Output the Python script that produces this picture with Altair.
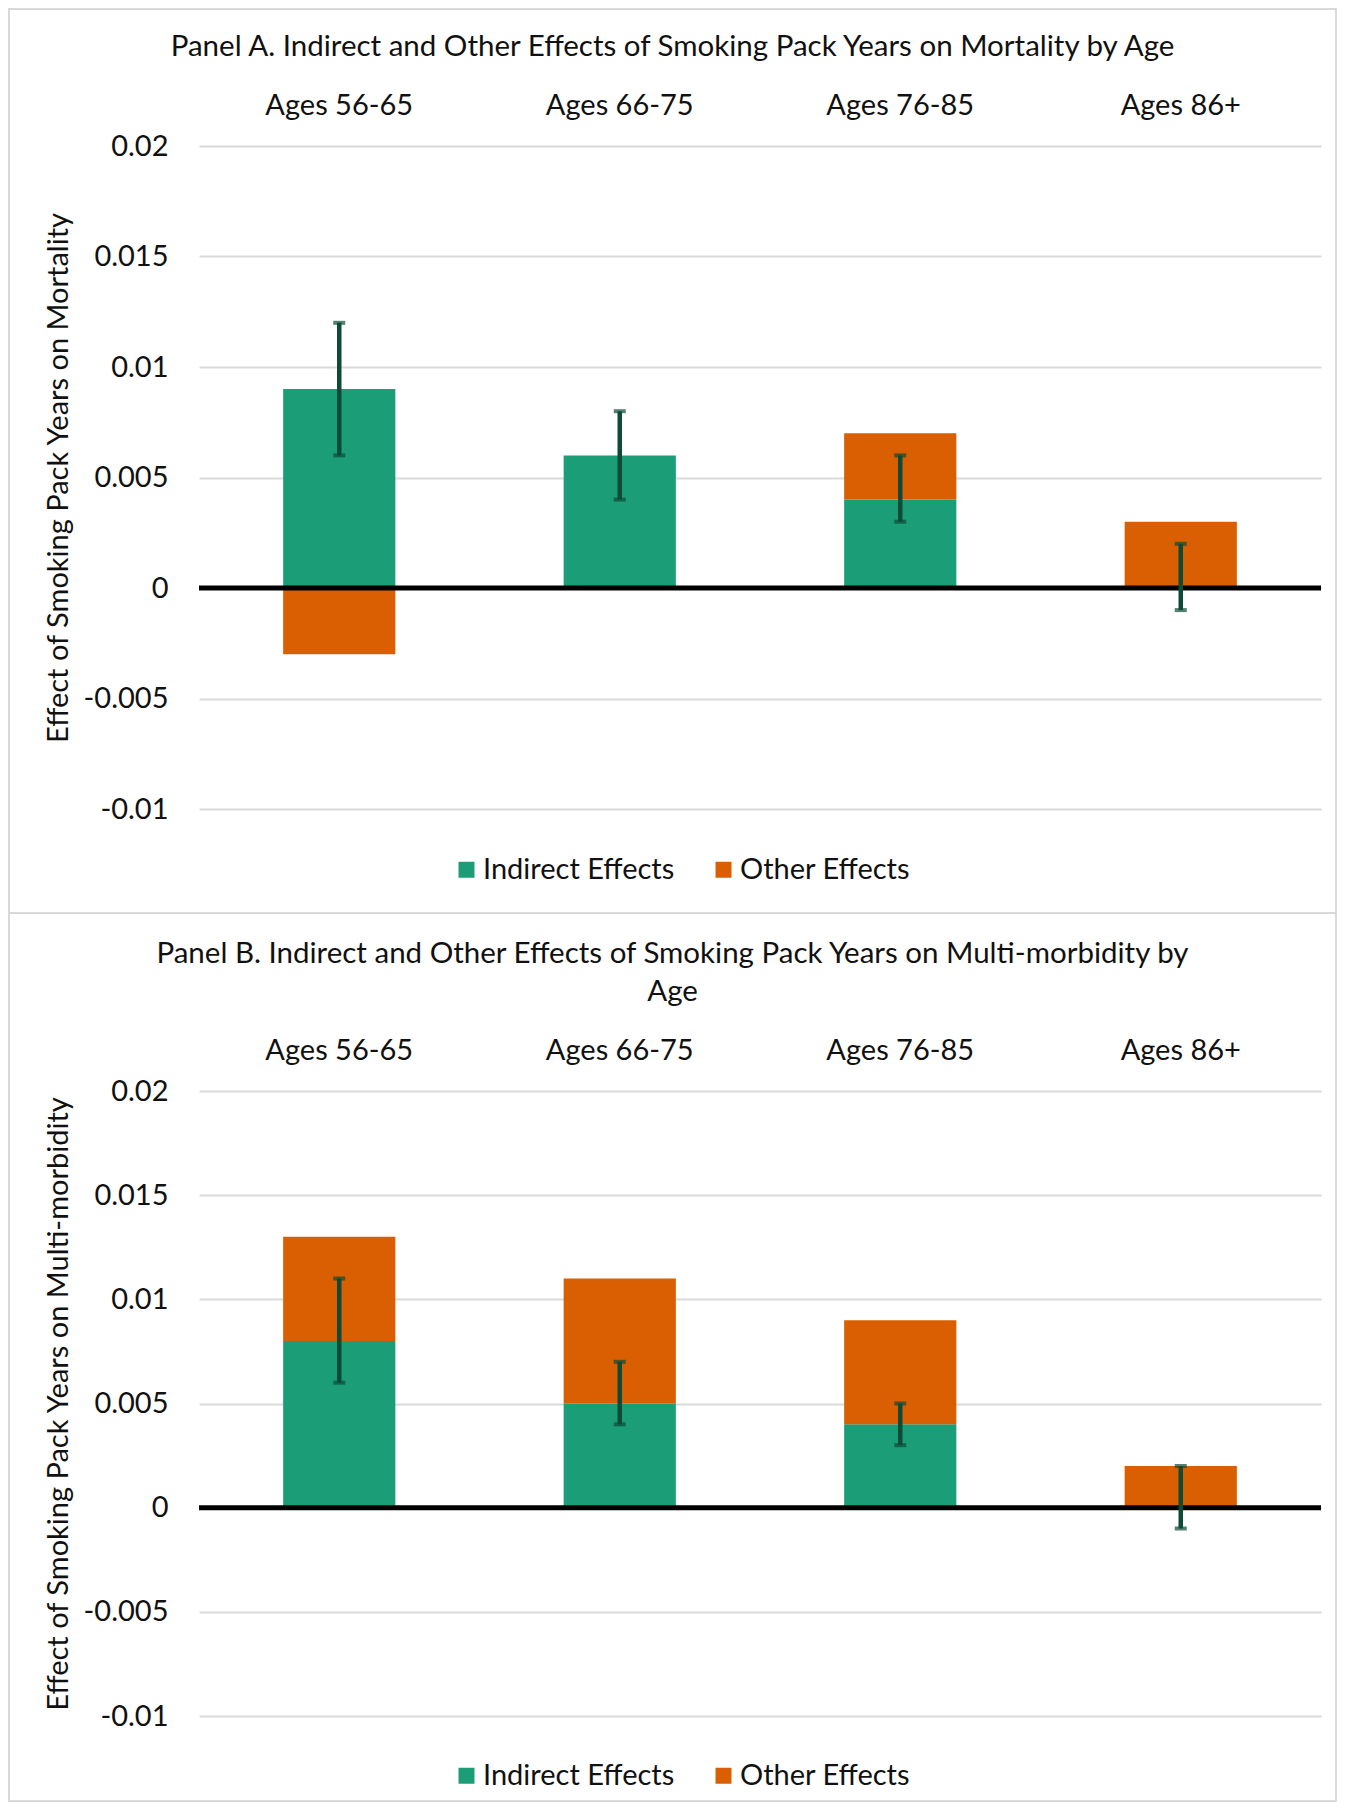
import altair as alt
import pandas as pd

# ---------------- data ----------------
ages = ["Ages 56-65", "Ages 66-75", "Ages 76-85", "Ages 86+"]
series = ["Indirect Effects", "Other Effects"]

mort_indirect = [0.009, 0.006, 0.004, 0.0]
mort_other = [-0.003, 0.0, 0.003, 0.003]
mort_ci_low = [0.006, 0.004, 0.003, -0.001]
mort_ci_high = [0.012, 0.008, 0.006, 0.002]

morb_indirect = [0.008, 0.005, 0.004, 0.0]
morb_other = [0.005, 0.006, 0.005, 0.002]
morb_ci_low = [0.006, 0.004, 0.003, -0.001]
morb_ci_high = [0.011, 0.007, 0.005, 0.002]

y_ticks = [-0.01, -0.005, 0, 0.005, 0.01, 0.015, 0.02]

title_a = "Panel A. Indirect and Other Effects of Smoking Pack Years on Mortality by Age"
title_b = ["Panel B. Indirect and Other Effects of Smoking Pack Years on Multi-morbidity by", "Age"]
ytitle_a = "Effect of Smoking Pack Years on Mortality"
ytitle_b = "Effect of Smoking Pack Years on Multi-morbidity"

# ---------------- style ----------------
FONT = "Lato"
FS = 29
TXT = "#111111"
GREEN = "#1b9e77"
ORANGE = "#d95f02"
ERR = "#0d4a38"
FRAME = "#d9d9d9"
W = 1122


def panel(title, ytitle, ind, oth, lo, hi, h, legend_y, frame_top, frame_bottom, title_offset):
    bars_df = pd.DataFrame({
        "age": ages * 2,
        "series": [series[0]] * len(ages) + [series[1]] * len(ages),
        "value": ind + oth,
        "ord": [0] * len(ages) + [1] * len(ages),
    })
    err_df = pd.DataFrame({"age": ages, "lo": lo, "hi": hi})
    caps_df = pd.DataFrame({"age": ages * 2, "v": lo + hi})
    zero_df = pd.DataFrame({"z": [0.0]})

    x = alt.X(
        "age:N", sort=ages, title=None,
        scale=alt.Scale(paddingInner=0.6, paddingOuter=0.3),
        axis=alt.Axis(orient="top", domain=False, ticks=False, labelAngle=0,
                      labelPadding=26, labelFontSize=FS, labelColor=TXT,
                      labelFont=FONT, grid=False),
    )
    yscale = alt.Scale(domain=[-0.01, 0.02], nice=False)

    bars = alt.Chart(bars_df).mark_bar().encode(
        x=x,
        y=alt.Y(
            "value:Q", stack="zero", scale=yscale, title=ytitle,
            axis=alt.Axis(values=y_ticks, domain=False, ticks=False,
                          labelPadding=31, labelFontSize=FS, labelFont=FONT,
                          labelColor=TXT,
                          labelExpr="replace(format(datum.value, '~g'), '\u2212', '-')",
                          grid=True, gridColor="#d9d9d9", gridWidth=2,
                          titleFont=FONT, titleFontSize=FS, titleFontWeight="normal",
                          titleColor=TXT, titlePadding=10),
        ),
        color=alt.Color(
            "series:N",
            scale=alt.Scale(domain=series, range=[GREEN, ORANGE]),
            legend=alt.Legend(title=None, orient="none", legendX=253, legendY=legend_y,
                              direction="horizontal", symbolType="square",
                              symbolSize=256, symbolStrokeWidth=0,
                              labelFont=FONT, labelFontSize=FS, labelColor=TXT,
                              labelLimit=500, labelOffset=2, columnPadding=34),
        ),
        order=alt.Order("ord:Q"),
    )

    zero = alt.Chart(zero_df).mark_rule(color="black", strokeWidth=5).encode(
        y=alt.Y("z:Q", scale=yscale)
    )

    err = alt.Chart(err_df).mark_rule(color=ERR, strokeWidth=4.5).encode(
        x=alt.X("age:N", sort=ages),
        y=alt.Y("lo:Q", scale=yscale),
        y2="hi:Q",
    )
    caps = alt.Chart(caps_df).mark_tick(color=ERR, thickness=4, size=12).encode(
        x=alt.X("age:N", sort=ages),
        y=alt.Y("v:Q", scale=yscale),
    )

    # light grey frame around each panel (as in the original figure)
    frame = alt.Chart(zero_df).mark_rect(
        fillOpacity=0, stroke=FRAME, strokeWidth=2
    ).encode(
        x=alt.value(-190), x2=alt.value(1137),
        y=alt.value(frame_top), y2=alt.value(frame_bottom),
    )

    return alt.layer(frame, bars, zero, err, caps).properties(
        width=W, height=h,
        title=alt.Title(title, font=FONT, fontSize=29.5, fontWeight="normal",
                        color=TXT, anchor="middle", frame="bounds",
                        offset=title_offset, lineHeight=38),
    )


pa = panel(title_a, ytitle_a, mort_indirect, mort_other, mort_ci_low, mort_ci_high,
           663, 709, -137, 767, -54)
pb = panel(title_b, ytitle_b, morb_indirect, morb_other, morb_ci_low, morb_ci_high,
           625, 670, -178, 710, -95)

chart = alt.vconcat(pa, pb, spacing=-2).resolve_scale(color="independent").resolve_legend(
    color="independent"
).properties(
    padding={"left": 0, "top": 0, "right": 0, "bottom": 0},
    background="white",
).configure_view(stroke=None)

chart.save("out.html", embed_options={"renderer": "svg", "actions": False})
